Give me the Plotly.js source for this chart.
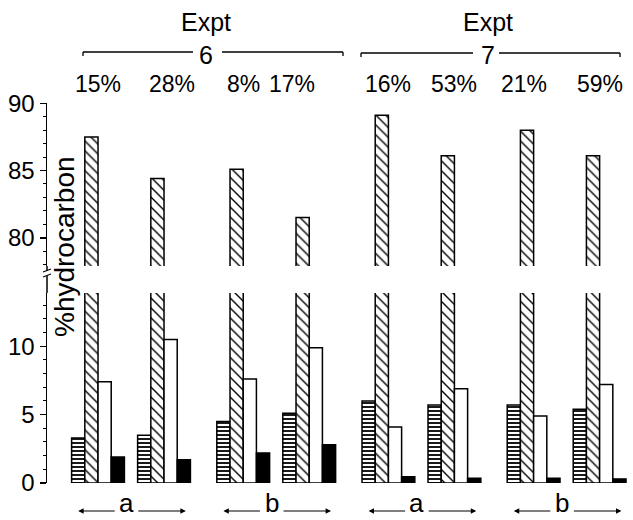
<!DOCTYPE html>
<html>
<head>
<meta charset="utf-8">
<script src="https://cdn.plot.ly/plotly-3.0.1.min.js"></script>
<style>html,body{margin:0;padding:0;background:#fff;}#chart{width:633px;height:520px;}</style>
</head>
<body>
<div id="chart"></div>
<script>
// ---- data ----
const pctLabels   = ['15%', '28%', '8%', '17%', '16%', '53%', '21%', '59%'];
const exptLabels  = ['6', '7'];
const pairLabels  = ['a', 'b', 'a', 'b'];
const hatchedVals = [3.3, 3.5, 4.5, 5.1, 6.0, 5.7, 5.7, 5.4];
const diagVals    = [87.5, 84.4, 85.1, 81.5, 89.1, 86.1, 88.0, 86.1];
const whiteVals   = [7.4, 10.5, 7.6, 9.9, 4.1, 6.9, 4.9, 7.2];
const blackVals   = [1.9, 1.7, 2.2, 2.8, 0.45, 0.35, 0.35, 0.3];

// ---- layout helpers ----
const FONT = 'Liberation Sans';
const PAIR_GAP = 0.2;
const xpos = pctLabels.map((_, i) => i + PAIR_GAP * Math.floor(i / 2));
const BW = 0.2;
const line = {color: 'black', width: 1.5};

function barTrace(vals, k, marker, yaxis) {
  return {
    type: 'bar', x: xpos, y: vals, xaxis: 'x', yaxis: yaxis,
    offset: -0.4 + BW * k, width: BW,
    marker: Object.assign({line: line}, marker),
    hoverinfo: 'y', showlegend: false
  };
}
const hatchMarker = {color: 'white', pattern: {shape: '-', fgcolor: 'black', bgcolor: 'white', size: 4, solidity: 0.45}};
const diagMarker  = {color: 'white', pattern: {shape: '\\', fgcolor: 'black', bgcolor: 'white', size: 7, solidity: 0.2}};
const whiteMarker = {color: 'white'};
const blackMarker = {color: 'black'};

const data = [
  barTrace(hatchedVals, 0, hatchMarker, 'y'),
  barTrace(diagVals, 1, diagMarker, 'y'),
  barTrace(whiteVals, 2, whiteMarker, 'y'),
  barTrace(blackVals, 3, blackMarker, 'y'),
  barTrace(diagVals, 1, diagMarker, 'y2')
];

// pixel helpers for decorations (plot area: x 47..630, y 103..483)
const PL = 47, PW = 583, PB = 483, PH = 380;
const px = v => (v - PL) / PW;
const py = v => (PB - v) / PH;

const tickFont = {family: FONT, size: 24, color: 'black'};
const axisCommon = {
  showgrid: false, zeroline: false, showline: true, linecolor: 'black', linewidth: 1.5,
  ticks: 'outside', ticklen: 6, tickwidth: 1.5, tickcolor: 'black',
  tickmode: 'linear', tick0: 0, dtick: 5, tickfont: tickFont, fixedrange: true,
  minor: {dtick: 1, ticks: 'outside', ticklen: 3, tickwidth: 1, tickcolor: 'black'}
};

const annotations = [];
const shapes = [];
const txt = (x, y, text, size, extra) => Object.assign({
  x: x, y: y, xref: 'paper', yref: 'paper', text: text, showarrow: false,
  font: {family: FONT, size: size, color: 'black'}, xanchor: 'center', yanchor: 'middle'
}, extra || {});

// percentage labels above each group
const pctShift = [0, 8, 0, -17, 0, 0, -10, 0];
pctLabels.forEach((t, i) => annotations.push(Object.assign(
  txt(xpos[i], py(84), t, 23), {xref: 'x', xshift: pctShift[i]})));

// Expt brackets
const brackets = [
  {label: exptLabels[0], l: 83, r: 343, gl: 193, gr: 222, c: 206, y: 52},
  {label: exptLabels[1], l: 361, r: 620, gl: 473, gr: 499, c: 488, y: 53}
];
brackets.forEach(b => {
  annotations.push(txt(px(b.c), py(39), 'Expt<br>' + b.label, 25));
  const segs = [[b.l, b.gl], [b.gr, b.r]];
  segs.forEach(s => shapes.push({type: 'line', xref: 'paper', yref: 'paper',
    x0: px(s[0]), x1: px(s[1]), y0: py(b.y), y1: py(b.y), line: {color: 'black', width: 1.3}}));
  [b.l, b.r].forEach(e => shapes.push({type: 'line', xref: 'paper', yref: 'paper',
    x0: px(e), x1: px(e), y0: py(b.y), y1: py(b.y + 4), line: {color: 'black', width: 1.3}}));
});

// bottom a / b arrows
pairLabels.forEach((t, k) => {
  const mid = (xpos[2 * k] + xpos[2 * k + 1]) / 2;
  const lx = mid - 0.07;
  annotations.push(Object.assign(txt(lx, py(520), t, 26), {xref: 'x', yanchor: 'bottom'}));
  annotations.push({x: mid - 0.8, y: py(511), xref: 'x', yref: 'paper', ax: 38, ay: 0,
    showarrow: true, arrowhead: 2, arrowsize: 0.9, arrowwidth: 1.2, arrowcolor: 'black', text: ''});
  annotations.push({x: mid + 0.83, y: py(511), xref: 'x', yref: 'paper', ax: -49, ay: 0,
    showarrow: true, arrowhead: 2, arrowsize: 0.9, arrowwidth: 1.2, arrowcolor: 'black', text: ''});
});

// y-axis title
annotations.push(txt(px(65), py(247), '%hydrocarbon', 28, {textangle: -90}));

// axis line extensions and break marks
shapes.push({type: 'line', xref: 'paper', yref: 'paper', x0: 0, x1: 0, y0: py(266), y1: py(271), line: {color: 'black', width: 1.5}});
shapes.push({type: 'line', xref: 'paper', yref: 'paper', x0: 0, x1: 0, y0: py(293), y1: py(276), line: {color: 'black', width: 1.5}});
shapes.push({type: 'line', xref: 'paper', yref: 'paper', x0: px(43), x1: px(51), y0: py(272), y1: py(269), line: {color: 'black', width: 1.2}});
shapes.push({type: 'line', xref: 'paper', yref: 'paper', x0: px(43), x1: px(51), y0: py(277), y1: py(274), line: {color: 'black', width: 1.2}});

const layout = {
  width: 633, height: 520,
  margin: {l: PL, r: 633 - PL - PW, t: 103, b: 520 - PB},
  paper_bgcolor: 'white', plot_bgcolor: 'white',
  barmode: 'overlay',
  showlegend: false,
  xaxis: {range: [-0.773, -0.773 + PW / 66], visible: false, fixedrange: true},
  yaxis: Object.assign({}, axisCommon, {domain: [0, py(293)], range: [0, 13.9], anchor: 'x'}),
  yaxis2: Object.assign({}, axisCommon, {domain: [py(266), 1], range: [77.9, 90.02], anchor: 'x'}),
  annotations: annotations,
  shapes: shapes
};

Plotly.newPlot('chart', data, layout, {displayModeBar: false, staticPlot: true});
</script>
</body>
</html>
